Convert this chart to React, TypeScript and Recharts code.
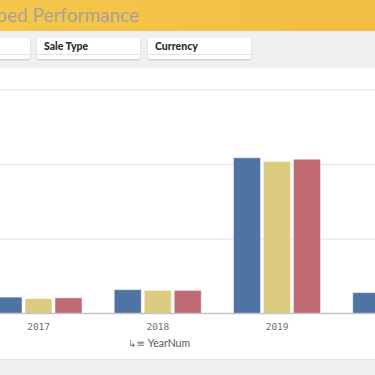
import React from 'react';
import { BarChart, Bar, XAxis, YAxis, CartesianGrid } from 'recharts';

const years = ['2017', '2018', '2019', '2020'];
const ordered = [0.22, 0.32, 2.09, 0.28];
const shipped = [0.2, 0.31, 2.04, 0.27];
const invoiced = [0.21, 0.31, 2.07, 0.27];
const yTicks = [0, 1, 2, 3];

const data = years.map((y, i) => ({
    year: y,
    ordered: ordered[i],
    shipped: shipped[i],
    invoiced: invoiced[i]
}));

const BLUE = '#4f73a3';
const YELLOW = '#dbcc80';
const RED = '#c06a74';

function FilterBox({ left, label }: { left: number; label?: string }) {
    return (
        <div
            style={{
                position: 'absolute',
                left,
                top: 38,
                width: 103,
                height: 21,
                background: '#fff',
                borderRadius: 2,
                boxShadow: '0 1px 2px rgba(0,0,0,0.18)'
            }}
        >
            {label && (
                <div
                    style={{
                        position: 'absolute',
                        left: 7,
                        top: 2,
                        fontFamily: 'Lato, sans-serif',
                        fontWeight: 900,
                        fontSize: 10.5,
                        color: '#2b2b2b'
                    }}
                >
                    {label}
                </div>
            )}
            <div style={{ position: 'absolute', left: 0, right: 0, top: 16, height: 1, background: '#e2e2e2' }} />
        </div>
    );
}

export default function App() {
    return (
        <div
            style={{
                position: 'fixed',
                left: 0,
                top: 0,
                width: 375,
                height: 375,
                overflow: 'hidden',
                background: '#f0f0f0'
            }}
        >
            {/* header */}
            <div
                style={{
                    position: 'absolute',
                    left: 0,
                    top: 0,
                    width: 375,
                    height: 31,
                    background: 'linear-gradient(90deg, #f5c64a 0%, #f1bd42 100%)'
                }}
            >
                <div
                    style={{
                        position: 'absolute',
                        right: 375 - 139,
                        top: 3,
                        whiteSpace: 'nowrap',
                        fontFamily: 'Lato, sans-serif',
                        fontSize: 19,
                        color: '#a6a29a'
                    }}
                >
                    Shipped Performance
                </div>
            </div>

            {/* filter bar */}
            <FilterBox left={-73} />
            <FilterBox left={37} label="Sale Type" />
            <FilterBox left={148} label="Currency" />

            {/* chart panel */}
            <div
                style={{
                    position: 'absolute',
                    left: 0,
                    top: 68,
                    width: 375,
                    height: 291,
                    background: '#fff',
                    borderBottom: '1px solid #e4e4e4'
                }}
            >
                <div style={{ position: 'absolute', left: -21, top: 0 }}>
                    <BarChart
                        width={477}
                        height={290}
                        data={data}
                        margin={{ top: 22, right: 0, left: 0, bottom: 0 }}
                        barSize={27}
                        barGap={3}
                    >
                        <CartesianGrid vertical={false} stroke="#e2e2e2" strokeWidth={1.2} />
                        <YAxis hide domain={[0, 3]} ticks={yTicks} />
                        <XAxis
                            dataKey="year"
                            height={44.5}
                            tickLine={false}
                            axisLine={{ stroke: '#c4c4c4', strokeWidth: 1.5 }}
                            tickMargin={4}
                            tick={{ fill: '#707070', fontSize: 9.5, fontFamily: '"DejaVu Sans Mono", monospace' }}
                        />
                        <Bar dataKey="ordered" fill={BLUE} stroke="rgba(255,255,255,0.45)" isAnimationActive={false} />
                        <Bar dataKey="shipped" fill={YELLOW} stroke="rgba(255,255,255,0.45)" isAnimationActive={false} />
                        <Bar dataKey="invoiced" fill={RED} stroke="rgba(255,255,255,0.45)" isAnimationActive={false} />
                    </BarChart>
                </div>

                <div
                    style={{
                        position: 'absolute',
                        left: 128,
                        top: 269,
                        whiteSpace: 'nowrap',
                        fontFamily: 'Lato, sans-serif',
                        fontSize: 10.5,
                        color: '#595959'
                    }}
                >
                    <span style={{ fontSize: 10, marginRight: 3, color: '#777', fontFamily: '"DejaVu Sans", sans-serif' }}>↳≡</span>
                    YearNum
                </div>
            </div>
        </div>
    );
}
